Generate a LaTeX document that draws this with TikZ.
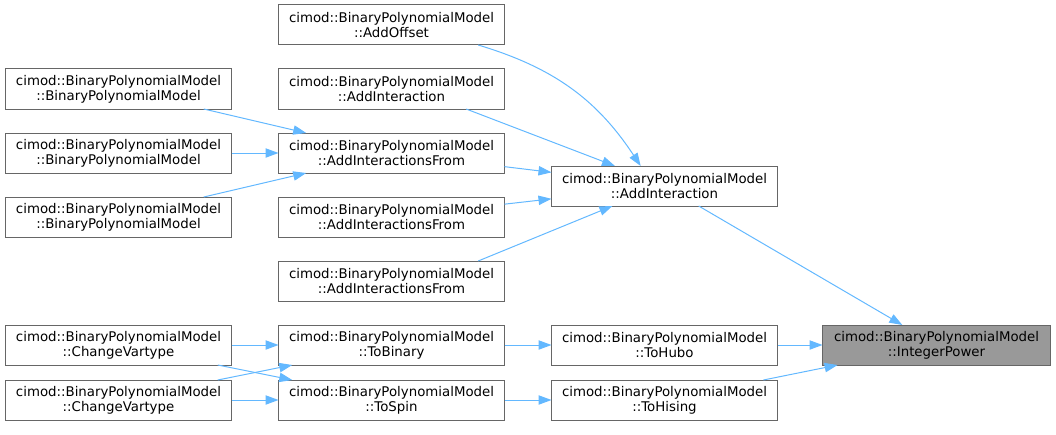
\documentclass[tikz,border=0pt]{standalone}
\usepackage{fontspec}
\usepackage{xcolor}
\usetikzlibrary{positioning, arrows.meta}
\newfontfamily\dvsans{DejaVu Sans}
\definecolor{edgeblue}{HTML}{63B8FF}
\definecolor{boxgray}{HTML}{666666}
\definecolor{curgray}{HTML}{999999}

\begin{document}
\begin{tikzpicture}[x=0.75pt,y=-0.75pt,->,>={Triangle[length=9.75pt,width=7pt]},
                    node distance=18pt and 35.25pt,
                    fn node/.style={rectangle,draw=boxgray,line width=0.75pt,fill=white,
                      minimum width=169.5pt,minimum height=30pt,inner sep=0pt,outer sep=0pt,
                      align=center,font=\dvsans\fontsize{10}{11.25}\selectfont},
                    cur node/.style={fn node,fill=curgray,minimum width=171pt},
                    call/.style={draw=edgeblue,line width=0.75pt}]
        \useasboundingbox (0,0) rectangle (1056,435);

        \node[cur node] (ip) at (936.5,345) {cimod::BinaryPolynomialModel\\::IntegerPower};

        \node[fn node] (hubo) [left=33.75pt of ip] {cimod::BinaryPolynomialModel\\::ToHubo};
        \node[fn node] (hising) [below=11.25pt of hubo] {cimod::BinaryPolynomialModel\\::ToHising};
        \node[fn node] (addint) [above=89.25pt of hubo] {cimod::BinaryPolynomialModel\\::AddInteraction};

        \node[fn node] (tobin) [left=of hubo] {cimod::BinaryPolynomialModel\\::ToBinary};
        \node[fn node] (tospin) [left=of hising] {cimod::BinaryPolynomialModel\\::ToSpin};
        \node[fn node] (aifC) [above=of tobin] {cimod::BinaryPolynomialModel\\::AddInteractionsFrom};
        \node[fn node] (aifB) [above=of aifC] {cimod::BinaryPolynomialModel\\::AddInteractionsFrom};
        \node[fn node] (aifA) [above=of aifB] {cimod::BinaryPolynomialModel\\::AddInteractionsFrom};
        \node[fn node] (addintB) [above=of aifA] {cimod::BinaryPolynomialModel\\::AddInteraction};
        \node[fn node] (addoff) [above=of addintB] {cimod::BinaryPolynomialModel\\::AddOffset};

        \node[fn node] (cvA) [left=of tobin] {cimod::BinaryPolynomialModel\\::ChangeVartype};
        \node[fn node] (cvB) [left=of tospin] {cimod::BinaryPolynomialModel\\::ChangeVartype};
        \node[fn node] (bpmA) [left=of addintB] {cimod::BinaryPolynomialModel\\::BinaryPolynomialModel};
        \node[fn node] (bpmB) [left=of aifA] {cimod::BinaryPolynomialModel\\::BinaryPolynomialModel};
        \node[fn node] (bpmC) [left=of aifB] {cimod::BinaryPolynomialModel\\::BinaryPolynomialModel};

        \path[every edge/.style={call}]
            (bpmA) edge (aifA)
            (bpmB) edge (aifA)
            (bpmC) edge (aifA)
            (addoff.347) edge[bend left=20] (addint.140)
            (addintB.345) edge (addint.158)
            (aifA) edge (addint)
            (aifB) edge (addint)
            (aifC.13) edge (addint.201)
            (addint) edge (ip)
            (hubo) edge (ip)
            (hising) edge (ip)
            (tobin) edge (hubo)
            (tospin) edge (hising)
            (cvA) edge (tobin)
            (cvA) edge (tospin)
            (cvB) edge (tobin)
            (cvB) edge (tospin);
\end{tikzpicture}
\end{document}
